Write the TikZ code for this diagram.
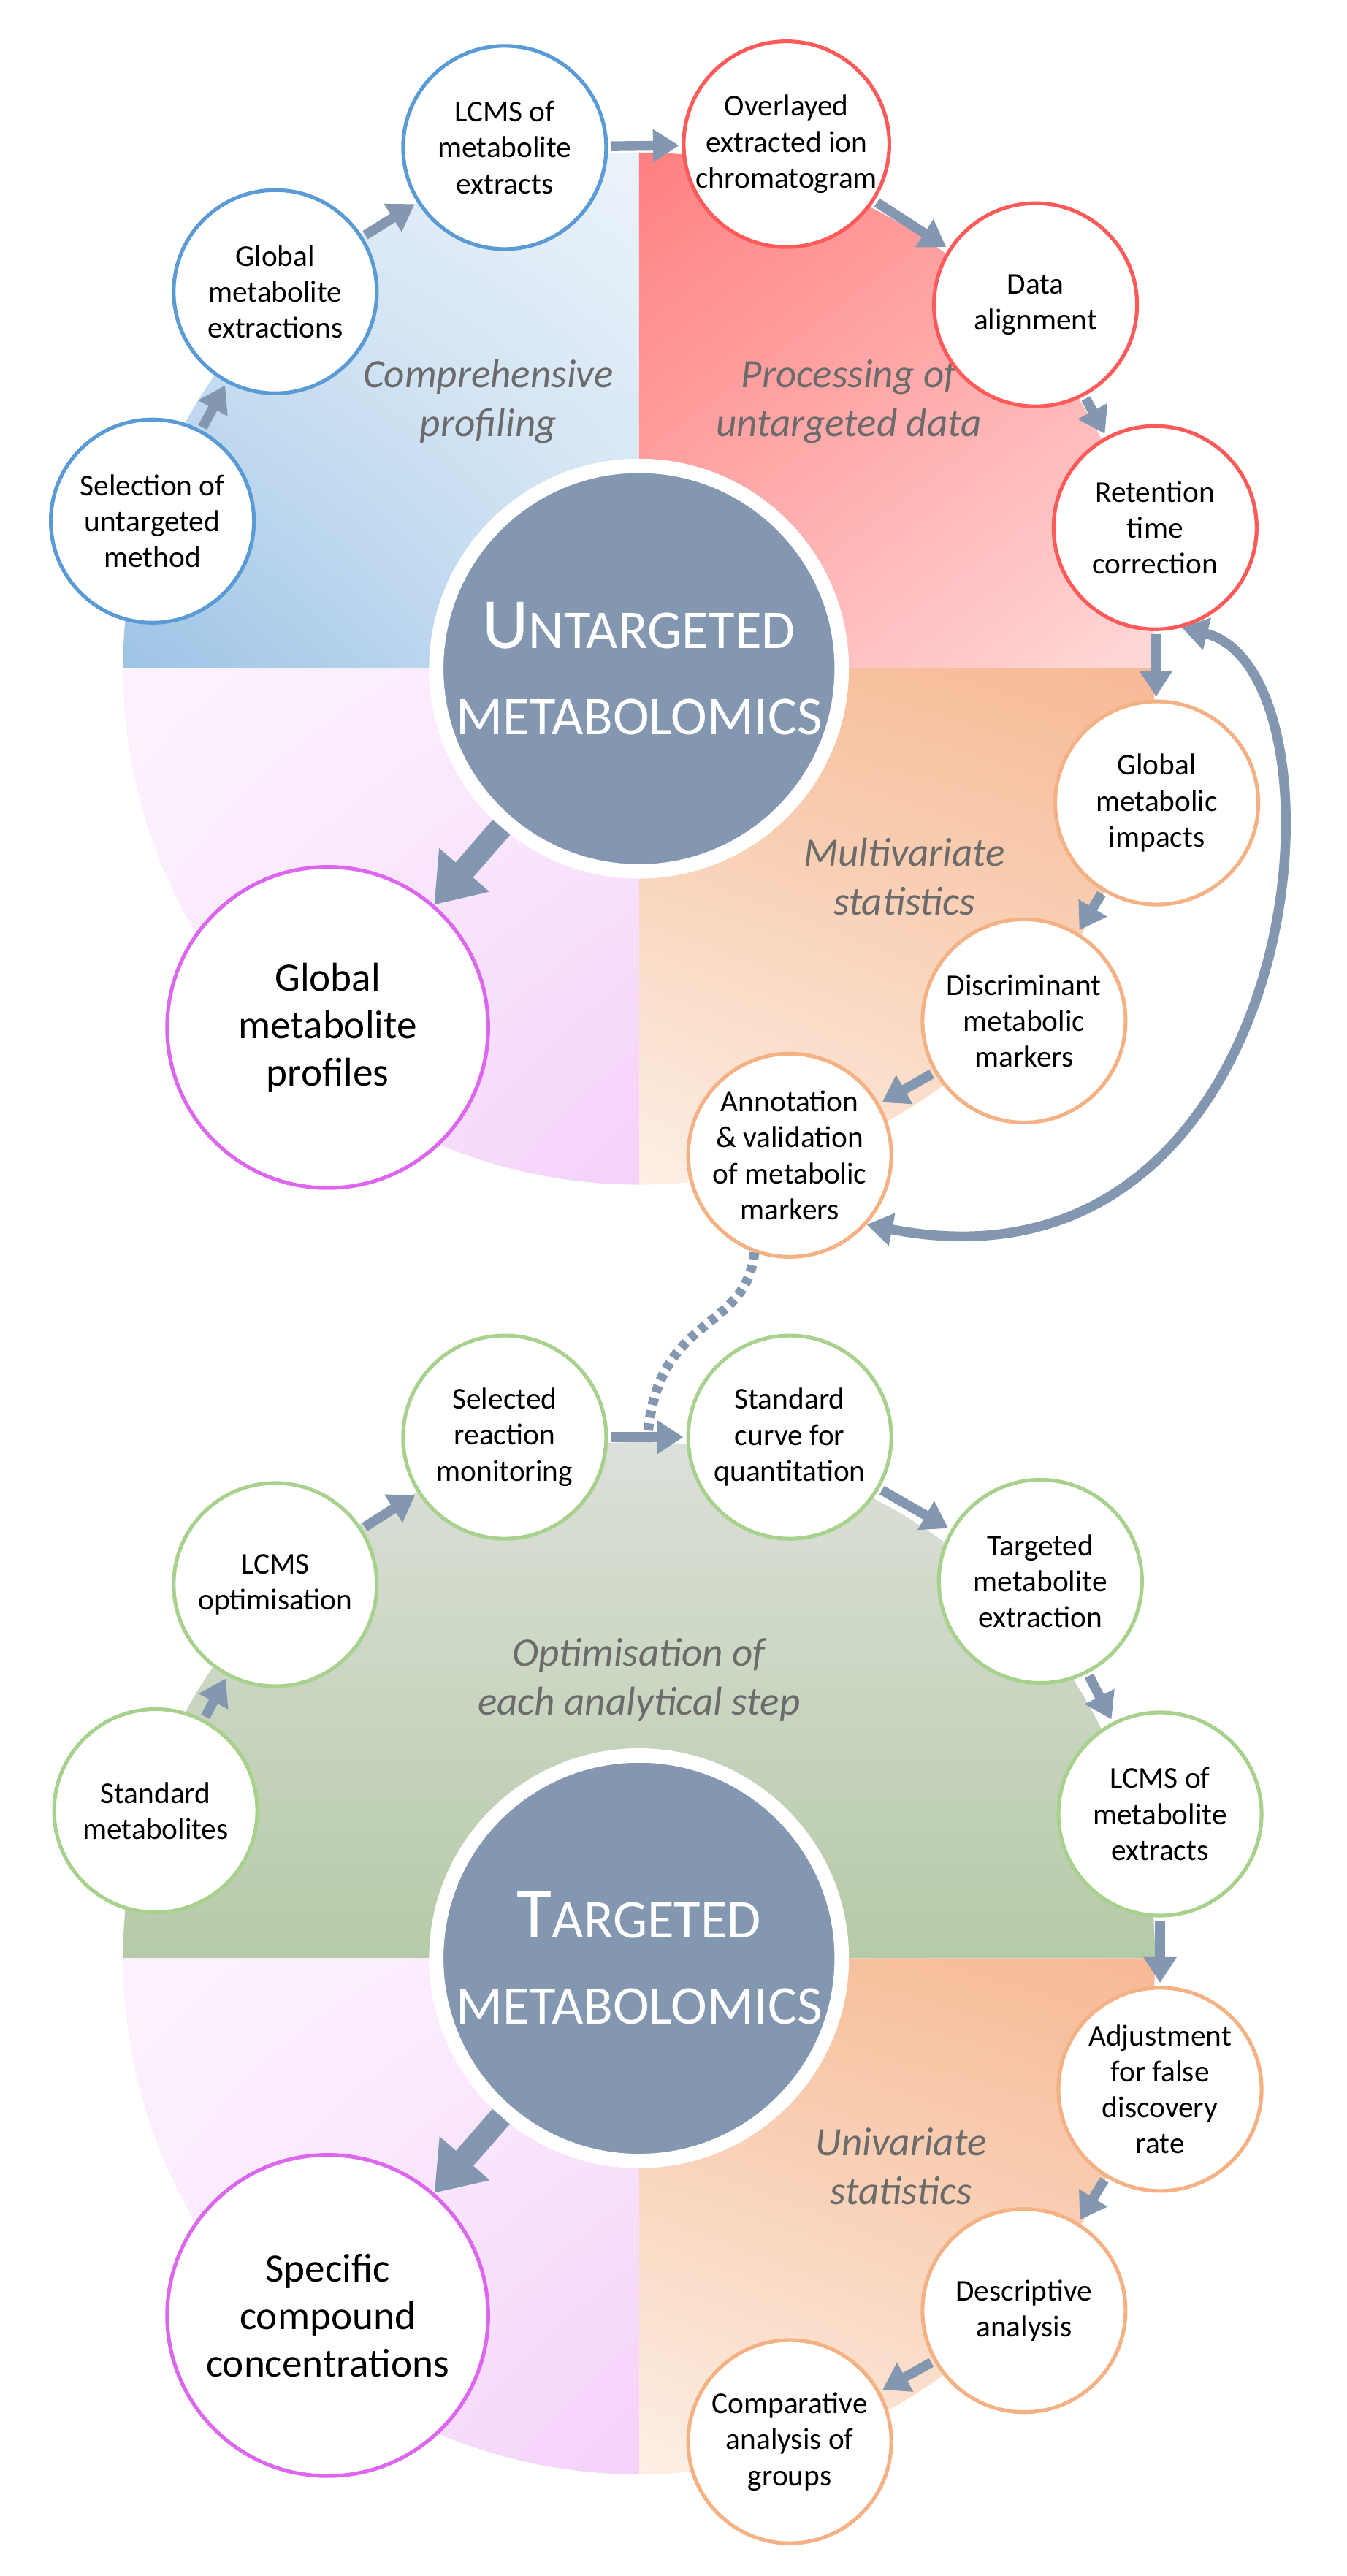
\documentclass[tikz,border=0pt]{standalone}
\usepackage{fontspec}
\setmainfont{Carlito}
\usetikzlibrary{arrows.meta,shadings}
\definecolor{slate}{HTML}{8497B0}
\definecolor{cblue}{HTML}{5B9BD5}
\definecolor{cred}{HTML}{FF5A5A}
\definecolor{cora}{HTML}{F4B183}
\definecolor{cgreen}{HTML}{A9D18E}
\definecolor{cmag}{HTML}{DD66EE}
\definecolor{lab}{HTML}{6B6B6B}
\newcommand{\fsc}[2]{#1{\fontsize{19}{30}\selectfont #2}}
\begin{document}
\begin{tikzpicture}[x=0.02cm,y=-0.02cm,
 sm/.style={circle,draw=#1,fill=white,line width=1.3pt,minimum size=2.48cm,inner sep=0pt,align=center,font=\fontsize{10.5}{12.5}\selectfont},
 big/.style={circle,draw=cmag,fill=white,line width=1.3pt,minimum size=3.92cm,inner sep=0pt,align=center,font=\fontsize{14}{16.5}\selectfont},
 ctr/.style={circle,fill=slate,draw=white,line width=5pt,minimum size=4.95cm,inner sep=0pt,align=center,text=white,font=\fontsize{25}{30}\selectfont},
 ar/.style={draw=slate,line width=3.4pt,-{Triangle[length=9pt,width=11pt]},shorten <=1pt,shorten >=1pt},
 bar/.style={draw=slate,line width=8pt,-{Triangle[length=16pt,width=22pt]}},
 lbl/.style={text=lab,font=\itshape\fontsize{14}{17}\selectfont,align=center}]
\useasboundingbox (0,0) rectangle (822,1572);
% ---------- top quadrants
\coordinate (C1) at (390,408);
\shade[upper left=cblue!22!white,upper right=cblue!12!white,lower left=cblue!60!white,lower right=cblue!30!white] (C1) -- ++(-6.3cm,0) arc (180:90:6.3cm) -- cycle;
\shade[upper left=red!50!white,upper right=red!35!white,lower left=red!30!white,lower right=red!15!white] (C1) -- ++(6.3cm,0) arc (0:90:6.3cm) -- cycle;
\shade[upper left=cora!75!white,upper right=cora!95!red!80!white,lower left=cora!20!white,lower right=cora!45!white] (C1) -- ++(6.3cm,0) arc (0:-90:6.3cm) -- cycle;
\shade[upper left=cmag!8!white,upper right=cmag!14!white,lower left=cmag!14!white,lower right=cmag!30!white] (C1) -- ++(-6.3cm,0) arc (180:270:6.3cm) -- cycle;
\node[lbl] (l1) at (298,245) {Comprehensive\\profiling};
\node[lbl] (l2) at (518,245) {Processing of\\untargeted data};
\node[lbl] (l3) at (552,535) {Multivariate\\statistics};
\node[ctr] (u) at (C1) {\fsc{U}{NTARGETED}\\\fsc{}{METABOLOMICS}};
\node[sm=cblue] (a1) at (93,318) {Selection of\\untargeted\\method};
\node[sm=cblue] (a2) at (168,178) {Global\\metabolite\\extractions};
\node[sm=cblue] (a3) at (308,90) {LCMS of\\metabolite\\extracts};
\node[sm=cred] (a4) at (480,88) {Overlayed\\extracted ion\\chromatogram};
\node[sm=cred] (a5) at (632,186) {Data\\alignment};
\node[sm=cred] (a6) at (705,322) {Retention\\time\\correction};
\node[sm=cora] (a7) at (706,490) {Global\\metabolic\\impacts};
\node[sm=cora] (a8) at (625,623) {Discriminant\\metabolic\\markers};
\node[sm=cora] (a9) at (482,705) {Annotation\\\& validation\\of metabolic\\markers};
\node[big] (gp) at (200,627) {Global\\metabolite\\profiles};
\draw[ar] (a1)--(a2); \draw[ar] (a2)--(a3); \draw[ar] (a3)--(a4); \draw[ar] (a4)--(a5);
\draw[ar] (a5)--(a6); \draw[ar] (a6)--(a7); \draw[ar] (a7)--(a8); \draw[ar] (a8)--(a9);
\draw[bar] (u)--(gp);
\draw[draw=slate,line width=3.4pt,{Triangle[length=9pt,width=11pt]}-{Triangle[length=9pt,width=11pt]}] (a9.-42) .. controls (800,800) and (830,410) .. (a6.-75);
% ---------- bottom
\coordinate (C2) at (390,1195);
\shade[top color=cgreen!30!gray!30!white,bottom color=cgreen!70!gray!75!white] (C2) -- ++(6.3cm,0) arc (0:180:6.3cm) -- cycle;
\shade[upper left=cora!75!white,upper right=cora!95!red!80!white,lower left=cora!20!white,lower right=cora!45!white] (C2) -- ++(6.3cm,0) arc (0:-90:6.3cm) -- cycle;
\shade[upper left=cmag!8!white,upper right=cmag!14!white,lower left=cmag!14!white,lower right=cmag!30!white] (C2) -- ++(-6.3cm,0) arc (180:270:6.3cm) -- cycle;
\node[lbl] (l4) at (390,1025) {Optimisation of\\each analytical step};
\node[lbl] (l5) at (550,1322) {Univariate\\statistics};
\node[ctr] (t) at (C2) {\fsc{T}{ARGETED}\\\fsc{}{METABOLOMICS}};
\node[sm=cgreen] (b1) at (95,1105) {Standard\\metabolites};
\node[sm=cgreen] (b2) at (168,967) {LCMS\\optimisation};
\node[sm=cgreen] (b3) at (308,877) {Selected\\reaction\\monitoring};
\node[sm=cgreen] (b4) at (482,877) {Standard\\curve for\\quantitation};
\node[sm=cgreen] (b5) at (635,965) {Targeted\\metabolite\\extraction};
\node[sm=cgreen] (b6) at (708,1107) {LCMS of\\metabolite\\extracts};
\node[sm=cora] (b7) at (708,1275) {Adjustment\\for false\\discovery\\rate};
\node[sm=cora] (b8) at (625,1410) {Descriptive\\analysis};
\node[sm=cora] (b9) at (482,1490) {Comparative\\analysis of\\groups};
\node[big] (sc) at (200,1413) {Specific\\compound\\concentrations};
\draw[ar] (b1)--(b2); \draw[ar] (b2)--(b3); \draw[ar] (b3)--(b4); \draw[ar] (b4)--(b5);
\draw[ar] (b5)--(b6); \draw[ar] (b6)--(b7); \draw[ar] (b7)--(b8); \draw[ar] (b8)--(b9);
\draw[bar] (t)--(sc);
\coordinate (dend) at (395,880);
\draw[draw=slate,line width=3.4pt,dash pattern=on 2.5pt off 2pt] (a9.-110) .. controls (455,815) and (400,800) .. (dend);
\end{tikzpicture}
\end{document}
